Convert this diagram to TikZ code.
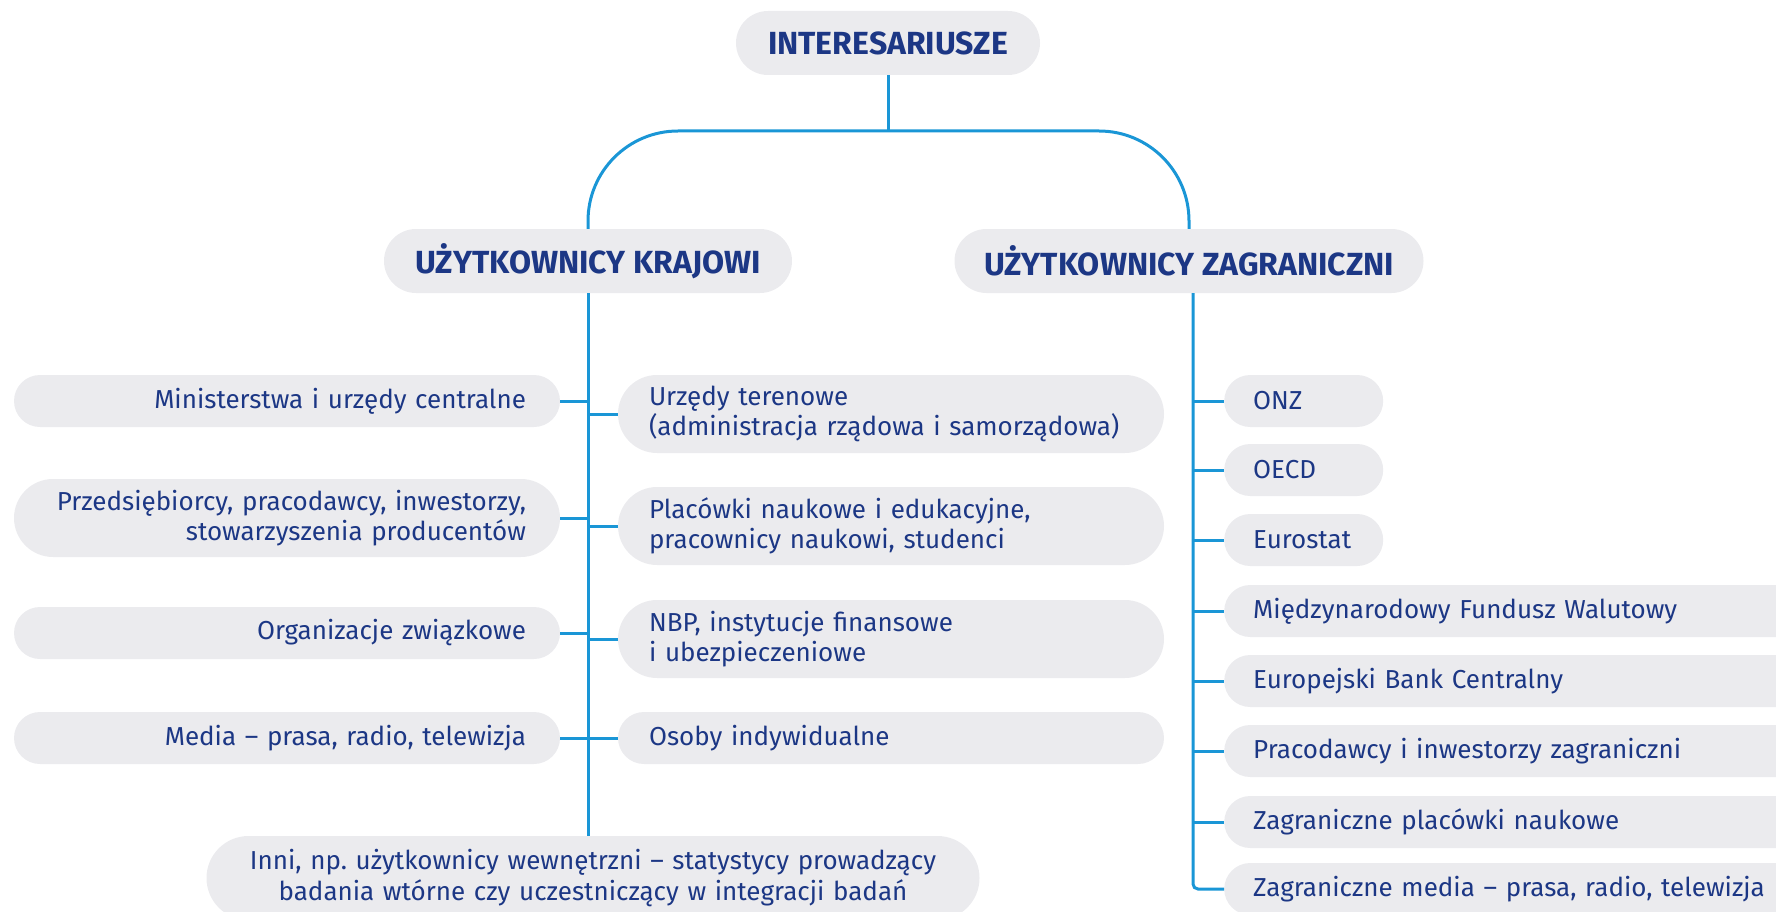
\documentclass[tikz,border=0pt]{standalone}
\usepackage{fontspec}
\setmainfont{Fira Sans}
\definecolor{navy}{RGB}{28,55,133}
\definecolor{boxgray}{RGB}{235,235,238}
\definecolor{lineblue}{RGB}{26,150,214}
\frenchspacing

\begin{document}
\begin{tikzpicture}[x=1pt, y=-1pt,
    box style/.style={fill=boxgray, text=navy, inner ysep=0pt,
        font=\fontsize{26}{30.5}\selectfont},
    head style/.style={box style, font=\fontsize{32}{36}\selectfont\bfseries,
        minimum height=64pt, rounded corners=32pt},
    one line/.style={minimum height=52pt, rounded corners=26pt},
    two line/.style={minimum height=78pt, rounded corners=39pt},
    left style/.style={box style, text width=478pt, inner xsep=34pt, align=right},
    mid style/.style={box style, text width=484pt, inner xsep=31pt, align=left},
    right style/.style={box style, one line, inner xsep=29pt, align=left, anchor=west},
    link style/.style={draw=lineblue, line width=3pt},]
    \useasboundingbox (0,0) rectangle (1776,912);
    \clip (0,0) rectangle (1776,912);

    % heads
    \node[head style, minimum width=304pt] (top) at (888,43) {INTERESARIUSZE};
    \node[head style, minimum width=408pt] (kraj) at (588,261) {UŻYTKOWNICY KRAJOWI};
    \node[head style, minimum width=469pt] (zag) at (1189,261) {UŻYTKOWNICY ZAGRANICZNI};

    % krajowi, left side
    \node[left style, one line] (min) at (287,401) {Ministerstwa i urzędy centralne};
    \node[left style, two line] (prz) at (287,518) {Przedsiębiorcy, pracodawcy, inwestorzy,\\stowarzyszenia producentów};
    \node[left style, one line] (org) at (287,633) {Organizacje związkowe};
    \node[left style, one line] (med) at (287,738) {Media – prasa, radio, telewizja};

    % krajowi, right side
    \node[mid style, two line] (urz) at (891,414) {Urzędy terenowe\\(administracja rządowa i samorządowa)};
    \node[mid style, two line] (pla) at (891,526) {Placówki naukowe i edukacyjne,\\pracownicy naukowi, studenci};
    \node[mid style, two line] (nbp) at (891,639) {NBP, instytucje finansowe\\i ubezpieczeniowe};
    \node[mid style, one line] (oso) at (891,738) {Osoby indywidualne};

    \node[box style, minimum height=84pt, rounded corners=42pt, text width=713pt, inner xsep=30pt, align=center] (inni) at (593,878)
        {Inni, np. użytkownicy wewnętrzni – statystycy prowadzący\\badania wtórne czy uczestniczący w integracji badań};

    % zagraniczni
    \node[right style, text width=101pt] (onz) at (1224,401) {ONZ};
    \node[right style, text width=101pt] (oecd) at (1224,470) {OECD};
    \node[right style, text width=101pt] (eur) at (1224,540) {Eurostat};
    \node[right style, text width=640pt] (mfw) at (1224,611) {Międzynarodowy Fundusz Walutowy};
    \node[right style, text width=640pt] (ebc) at (1224,681) {Europejski Bank Centralny};
    \node[right style, text width=640pt] (prac) at (1224,751) {Pracodawcy i inwestorzy zagraniczni};
    \node[right style, text width=640pt] (zpl) at (1224,822) {Zagraniczne placówki naukowe};
    \node[right style, text width=640pt] (zmed) at (1224,889) {Zagraniczne media – prasa, radio, telewizja};

    \coordinate (bar) at (888,131);
    \coordinate (rtrunk) at (1193,293);

    \draw[link style] (top.south) -- (bar);
    \draw[link style, rounded corners=90pt] (kraj.north) -- (kraj.north |- bar) -- (zag.north |- bar) -- (zag.north);

    \draw[link style] (kraj.south) -- (inni.north -| kraj.south);
    \foreach \n in {min,prz,org,med}
        \draw[link style] (\n.east) -- (\n.east -| kraj.south);
    \foreach \n in {urz,pla,nbp,oso}
        \draw[link style] (\n.west) -- (\n.west -| kraj.south);

    \draw[link style, rounded corners=5pt] (rtrunk) -- (rtrunk |- zmed.west) -- (zmed.west);
    \foreach \n in {onz,oecd,eur,mfw,ebc,prac,zpl}
        \draw[link style] (\n.west) -- (\n.west -| rtrunk);

\end{tikzpicture}
\end{document}
